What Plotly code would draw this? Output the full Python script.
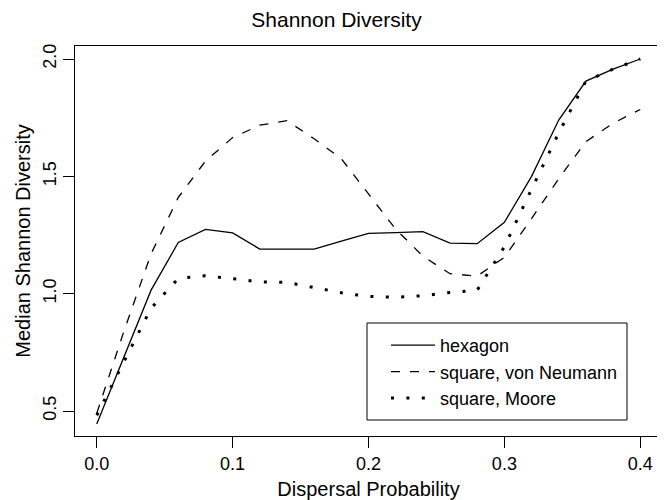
import plotly.graph_objects as go

dispersal = [0.00, 0.02, 0.04, 0.06, 0.08, 0.10, 0.12, 0.14, 0.16, 0.18, 0.20,
             0.22, 0.24, 0.26, 0.28, 0.30, 0.32, 0.34, 0.36, 0.38, 0.40]
hexagon = [0.445, 0.73, 1.015, 1.218, 1.274, 1.259, 1.19, 1.19, 1.19, 1.224, 1.257,
           1.26, 1.264, 1.215, 1.213, 1.304, 1.50, 1.74, 1.906, 1.957, 2.0]
von_neumann = [0.49, 0.84, 1.17, 1.41, 1.565, 1.665, 1.718, 1.737, 1.66, 1.575, 1.425,
               1.275, 1.16, 1.085, 1.075, 1.155, 1.32, 1.49, 1.648, 1.726, 1.785]
moore = [0.482, 0.71, 0.938, 1.065, 1.076, 1.064, 1.050, 1.048, 1.025, 1.004, 0.988,
         0.985, 0.991, 1.005, 1.015, 1.20, 1.445, 1.685, 1.906, 1.957, 2.0]

x_ticks = [0.0, 0.1, 0.2, 0.3, 0.4]
x_tick_labels = ["0.0", "0.1", "0.2", "0.3", "0.4"]
y_ticks = [0.5, 1.0, 1.5, 2.0]
y_tick_labels = ["0.5", "1.0", "1.5", "2.0"]

FONT = "Liberation Sans, Arial, Helvetica, sans-serif"

fig = go.Figure()
fig.add_trace(go.Scatter(x=dispersal, y=hexagon, mode="lines", name="hexagon",
                         line=dict(color="black", width=1.3)))
fig.add_trace(go.Scatter(x=dispersal, y=von_neumann, mode="lines", name="square, von Neumann",
                         line=dict(color="black", width=1.3, dash="9px,10px")))
fig.add_trace(go.Scatter(x=dispersal, y=moore, mode="lines", name="square, Moore",
                         line=dict(color="black", width=3, dash="3px,12.4px")))

# legend frame (R-style box)
fig.add_shape(type="rect", xref="paper", yref="paper",
              x0=(367 - 75) / 587, x1=(627 - 75) / 587,
              y0=(436 - 420) / 390, y1=(436 - 323) / 390,
              line=dict(color="black", width=1), fillcolor="rgba(0,0,0,0)", layer="below")

fig.update_layout(
    width=657, height=492,
    margin=dict(l=67, r=3, t=38, b=64),
    paper_bgcolor="white", plot_bgcolor="white",
    font=dict(family=FONT, size=18, color="black"),
    title=dict(text="Shannon Diversity", x=0.5, xref="container", xanchor="center",
               y=1 - 12 / 492, yref="container", yanchor="middle",
               font=dict(size=21, family=FONT, color="black")),
    showlegend=True,
    legend=dict(x=(386 - 75) / 587, y=(436 - 327) / 390, xanchor="left", yanchor="top",
                bgcolor="rgba(0,0,0,0)", borderwidth=0,
                font=dict(size=18, family=FONT, color="black"),
                itemwidth=44, tracegroupgap=0),
    xaxis=dict(range=[-0.016, 0.416], tickvals=x_ticks, ticktext=x_tick_labels,
               showgrid=False, zeroline=False, showline=True, mirror=True,
               linecolor="black", linewidth=1, ticks="outside", ticklen=11,
               tickcolor="black", tickwidth=1,
               title=dict(text="Dispersal Probability", standoff=10,
                          font=dict(size=20, family=FONT))),
    yaxis=dict(range=[0.3935, 2.0554], tickvals=y_ticks, ticktext=y_tick_labels,
               tickangle=-90,
               showgrid=False, zeroline=False, showline=True, mirror=True,
               linecolor="black", linewidth=1, ticks="outside", ticklen=11,
               tickcolor="black", tickwidth=1,
               title=dict(text="Median Shannon Diversity", standoff=3,
                          font=dict(size=20, family=FONT))),
)

fig.write_html("out.html")
